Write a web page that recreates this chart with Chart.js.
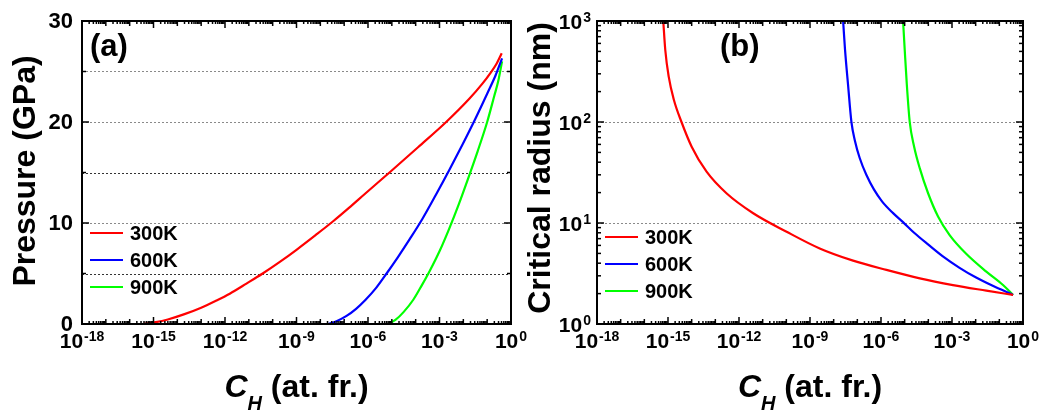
<!DOCTYPE html>
<html>
<head>
<meta charset="utf-8">
<script src="https://cdn.jsdelivr.net/npm/chart.js@4.4.1/dist/chart.umd.min.js"></script>
<style>
  body { margin: 0; background: #fff; }
  #wrapA { position: absolute; left: 0; top: 0; }
  #wrapB { position: absolute; left: 520px; top: 0; }
</style>
</head>
<body>
<div id="wrapA"><canvas id="chartA" width="535" height="412"></canvas></div>
<div id="wrapB"><canvas id="chartB" width="527" height="412"></canvas></div>
<script>
const FONT = '"Liberation Sans", Arial, Helvetica, sans-serif';

// x values are stored as log10(C_H)
// panel (a): pressure (GPa)
const logC300a = [-15.43, -14.9, -14.4, -13.7, -13.0, -12.4, -11.8, -11.1, -10.42, -9.7, -9.0, -8.2, -7.45, -6.8, -6.1, -5.05, -3.9, -2.72, -1.75, -1.2, -0.85, -0.6, -0.39];
const press300 = [0, 0.18, 0.45, 0.98, 1.62, 2.28, 3.0, 4.0, 5.0, 6.15, 7.35, 8.8, 10.2, 11.5, 12.95, 15.1, 17.5, 20.0, 22.3, 23.8, 24.9, 25.8, 26.8];
const logC600a = [-7.66, -7.3, -6.9, -6.5, -6.1, -5.65, -5.22, -4.75, -4.25, -3.72, -3.15, -2.6, -2.05, -1.5, -1.0, -0.65, -0.375];
const press600 = [0, 0.3, 0.8, 1.5, 2.4, 3.6, 5.0, 6.6, 8.4, 10.4, 12.8, 15.2, 17.7, 20.3, 22.8, 24.6, 26.3];
const logC900a = [-5.15, -4.85, -4.5, -4.1, -3.75, -3.4, -3.0, -2.6, -2.2, -1.8, -1.4, -1.0, -0.7, -0.54, -0.375];
const press900 = [0, 0.4, 1.2, 2.4, 3.8, 5.3, 7.2, 9.4, 11.8, 14.4, 17.1, 20.0, 22.6, 24.0, 26.0];

// panel (b): critical radius (nm)
const logC300b = [-15.2, -15.115, -14.97, -14.75, -14.43, -14.0, -13.37, -12.53, -11.4, -9.99, -8.59, -7.18, -5.77, -4.36, -2.96, -1.55, -0.42];
const radius300 = [1000, 516, 281, 165, 100, 57, 32.2, 19.7, 12.5, 8.2, 5.6, 4.24, 3.43, 2.83, 2.43, 2.14, 1.94];
const logC600b = [-7.6, -7.52, -7.39, -7.25, -7.1, -6.9, -6.62, -6.3, -5.95, -5.5, -5.07, -4.6, -4.0, -3.4, -2.68, -2.0, -1.3, -0.42];
const radius600 = [1000, 520, 230, 100, 65, 44, 30, 21.5, 16.3, 12.6, 10.2, 8.0, 6.1, 4.7, 3.6, 2.9, 2.4, 1.94];
const logC900b = [-5.067, -4.997, -4.912, -4.786, -4.6, -4.36, -4.01, -3.59, -3.1, -2.39, -1.55, -0.845, -0.42];
const radius900 = [1000, 516, 241, 100, 57, 34.7, 19.7, 11.6, 7.6, 4.93, 3.3, 2.43, 1.94];

const seriesLabels = ['300K', '600K', '900K'];
const seriesColors = ['#ff0000', '#0000ff', '#00ff00'];

const xTickExps = [-18, -15, -12, -9, -6, -3, 0];
const yTicksA = [0, 10, 20, 30];
const yMinorA = [5, 15, 25];
const gridA = [5, 10, 15, 20, 25];
const gridDarkA = [5, 15];
const yTickExpsB = [0, 1, 2, 3];
const gridB = [10, 100];

function toPoints(logs, vals) {
  return logs.map((e, i) => ({ x: Math.pow(10, e), y: vals[i] }));
}

function line(ctx, x1, y1, x2, y2) {
  ctx.beginPath();
  ctx.moveTo(x1, y1);
  ctx.lineTo(x2, y2);
  ctx.stroke();
}

// "10" with a raised exponent; align: 'center' or 'right'
function drawPow(ctx, exp, x, base, align) {
  ctx.font = 'bold 21px ' + FONT;
  const w1 = ctx.measureText('10').width;
  ctx.font = 'bold 14px ' + FONT;
  const w2 = ctx.measureText(exp).width;
  const w = w1 + w2 + 1;
  const x0 = align === 'center' ? x - w / 2 : x - w;
  ctx.textAlign = 'left';
  ctx.textBaseline = 'alphabetic';
  ctx.font = 'bold 21px ' + FONT;
  ctx.fillText('10', x0, base);
  ctx.font = 'bold 14px ' + FONT;
  ctx.fillText(exp, x0 + w1 + 1, base - 7);
}

function axesPlugin(cfg) {
  return {
    id: 'axes' + cfg.name,
    beforeDatasetsDraw(chart) {
      const { ctx, chartArea: a, scales: { y } } = chart;
      ctx.save();
      ctx.lineWidth = 1;
      ctx.setLineDash([2, 2]);
      cfg.grid.forEach(v => {
        ctx.strokeStyle = (cfg.gridDark || []).includes(v) ? '#333' : '#8a8a8a';
        const py = Math.round(y.getPixelForValue(v)) + 0.5;
        line(ctx, a.left, py, a.right, py);
      });
      ctx.restore();
    },
    afterDraw(chart) {
      const { ctx, chartArea: a, scales: { x, y } } = chart;
      ctx.save();
      ctx.fillStyle = '#000';
      ctx.strokeStyle = '#000';

      // x ticks (inward, bottom and top)
      ctx.lineWidth = 1.5;
      for (let e = -18; e <= 0; e++) {
        const px = x.getPixelForValue(Math.pow(10, e));
        const len = e % 3 === 0 ? 7 : 5;
        line(ctx, px, a.bottom, px, a.bottom - len);
        line(ctx, px, a.top, px, a.top + len);
        if (e < 0) {
          for (let m = 2; m <= 9; m++) {
            const pm = x.getPixelForValue(m * Math.pow(10, e));
            line(ctx, pm, a.bottom, pm, a.bottom - 3);
            line(ctx, pm, a.top, pm, a.top + 3);
          }
        }
      }
      // y ticks (inward, left and right)
      cfg.yMajor.forEach(v => {
        const py = y.getPixelForValue(v);
        line(ctx, a.left, py, a.left + 7, py);
        line(ctx, a.right, py, a.right - 7, py);
      });
      cfg.yMinor.forEach(v => {
        const py = y.getPixelForValue(v);
        line(ctx, a.left, py, a.left + 4, py);
        line(ctx, a.right, py, a.right - 4, py);
      });

      // frame
      ctx.lineWidth = 2;
      ctx.strokeRect(a.left, a.top, a.right - a.left, a.bottom - a.top);

      // x tick labels
      xTickExps.forEach(e => {
        const px = x.getPixelForValue(Math.pow(10, e));
        drawPow(ctx, e === 0 ? '0' : '-' + Math.abs(e), px, a.bottom + 24, 'center');
      });
      // y tick labels
      cfg.yLabels(ctx, a, y);

      // x title: C_H (at. fr.)
      const cx = (a.left + a.right) / 2;
      const base = a.bottom + 73;
      ctx.font = 'italic bold 32px ' + FONT;
      const wC = ctx.measureText('C').width;
      ctx.font = 'italic bold 20px ' + FONT;
      const wH = ctx.measureText('H').width;
      ctx.font = 'bold 32px ' + FONT;
      const wR = ctx.measureText(' (at. fr.)').width;
      const x0 = cx - (wC + wH + wR) / 2;
      ctx.textAlign = 'left';
      ctx.textBaseline = 'alphabetic';
      ctx.font = 'italic bold 32px ' + FONT;
      ctx.fillText('C', x0, base);
      ctx.font = 'italic bold 20px ' + FONT;
      ctx.fillText('H', x0 + wC, base + 13);
      ctx.font = 'bold 32px ' + FONT;
      ctx.fillText(' (at. fr.)', x0 + wC + wH, base);

      // y title
      ctx.save();
      ctx.translate(cfg.yTitleX, cfg.yTitleY);
      ctx.rotate(-Math.PI / 2);
      ctx.textAlign = 'center';
      ctx.font = 'bold 32px ' + FONT;
      ctx.fillText(cfg.yTitle, 0, 0);
      ctx.restore();

      // panel label
      ctx.font = 'bold 31px ' + FONT;
      ctx.textAlign = 'left';
      ctx.fillText(cfg.panel, cfg.panelX, 56);

      // legend
      chart.data.datasets.forEach((ds, i) => {
        const ly = cfg.legendY + i * 27;
        ctx.strokeStyle = ds.borderColor;
        ctx.lineWidth = 2;
        line(ctx, cfg.legendX, ly, cfg.legendX + 33, ly);
        ctx.fillStyle = '#000';
        ctx.font = 'bold 20px ' + FONT;
        ctx.fillText(ds.label, cfg.legendX + 40, ly + 7);
      });
      ctx.restore();
    }
  };
}

function makeDatasets(pairs) {
  return pairs.map((p, i) => ({
    label: seriesLabels[i],
    data: toPoints(p[0], p[1]),
    borderColor: seriesColors[i],
    borderWidth: 2.2,
    pointRadius: 0,
    fill: false,
    cubicInterpolationMode: 'monotone'
  }));
}

function baseOptions(yScale, padLeft, padRight) {
  return {
    responsive: false,
    devicePixelRatio: 1,
    animation: false,
    layout: { padding: { left: padLeft, right: padRight, top: 21, bottom: 88 } },
    plugins: { legend: { display: false }, tooltip: { enabled: false } },
    scales: {
      x: { type: 'logarithmic', min: 1e-18, max: 1, display: false },
      y: Object.assign({ display: false }, yScale)
    }
  };
}

// panel (a)
new Chart(document.getElementById('chartA'), {
  type: 'line',
  data: { datasets: makeDatasets([[logC300a, press300], [logC600a, press600], [logC900a, press900]]) },
  options: baseOptions({ type: 'linear', min: 0, max: 30 }, 82, 24),
  plugins: [axesPlugin({
    name: 'A',
    grid: gridA,
    gridDark: gridDarkA,
    yMajor: yTicksA,
    yMinor: yMinorA,
    yLabels(ctx, a, y) {
      ctx.font = 'bold 22px ' + FONT;
      ctx.textAlign = 'right';
      ctx.textBaseline = 'middle';
      yTicksA.forEach(v => ctx.fillText(String(v), a.left - 9, y.getPixelForValue(v) + 1));
      ctx.textBaseline = 'alphabetic';
    },
    yTitle: 'Pressure (GPa)',
    yTitleX: 35,
    yTitleY: 171,
    panel: '(a)',
    panelX: 90,
    legendX: 90,
    legendY: 233
  })]
});

// panel (b)
const minorB = [];
for (let e = 0; e < 3; e++) for (let m = 2; m <= 9; m++) minorB.push(m * Math.pow(10, e));
new Chart(document.getElementById('chartB'), {
  type: 'line',
  data: { datasets: makeDatasets([[logC300b, radius300], [logC600b, radius600], [logC900b, radius900]]) },
  options: baseOptions({ type: 'logarithmic', min: 1, max: 1000 }, 77, 24),
  plugins: [axesPlugin({
    name: 'B',
    grid: gridB,
    yMajor: yTickExpsB.map(e => Math.pow(10, e)),
    yMinor: minorB,
    yLabels(ctx, a, y) {
      yTickExpsB.forEach(e => {
        const py = y.getPixelForValue(Math.pow(10, e));
        drawPow(ctx, String(e), a.left - 6, py + 8, 'right');
      });
    },
    yTitle: 'Critical radius (nm)',
    yTitleX: 30,
    yTitleY: 168,
    panel: '(b)',
    panelX: 200,
    legendX: 85,
    legendY: 237
  })]
});
</script>
</body>
</html>
